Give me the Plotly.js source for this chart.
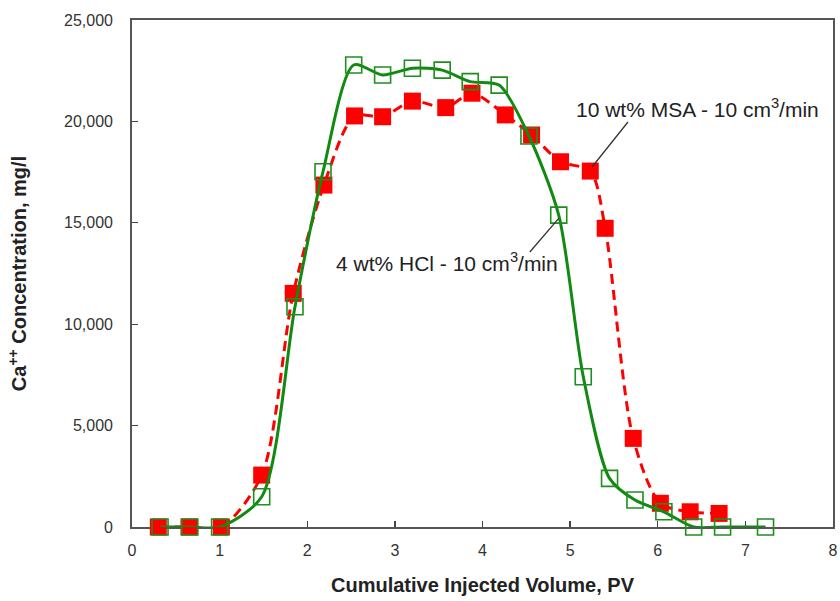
<!DOCTYPE html>
<html>
<head>
<meta charset="utf-8">
<script src="https://cdn.plot.ly/plotly-3.0.1.min.js"></script>
<style>
  html, body { margin: 0; padding: 0; background: #fff; }
  #chart { width: 840px; height: 601px; }
</style>
</head>
<body>
<div id="chart"></div>
<script>
// Effluent calcium concentration vs. injected pore volumes
const msaPV   = [0.30, 0.65, 1.02, 1.48, 1.84, 2.19, 2.54, 2.86, 3.20, 3.58, 3.88, 4.26, 4.56, 4.89, 5.23, 5.40, 5.72, 6.03, 6.37, 6.70];
const msaCa   = [0, 0, 0, 2560, 11520, 16860, 20270, 20230, 21000, 20680, 21390, 20320, 19330, 18010, 17550, 14730, 4370, 1170, 750, 670];

const hclPV   = [0.32, 0.66, 1.00, 1.48, 1.86, 2.18, 2.53, 2.86, 3.20, 3.54, 3.86, 4.19, 4.53, 4.87, 5.15, 5.45, 5.74, 6.07, 6.41, 6.74, 7.23];
const hclCa   = [0, 0, 0, 1490, 10860, 17520, 22780, 22290, 22620, 22530, 21960, 21790, 19280, 15380, 7410, 2400, 1330, 750, 0, 0, 0];

const msaLabel = '10 wt% MSA - 10 cm<sup>3</sup>/min';
const hclLabel = '4 wt% HCl - 10 cm<sup>3</sup>/min';

const xTicks = [0, 1, 2, 3, 4, 5, 6, 7, 8];
const yTicks = [0, 5000, 10000, 15000, 20000, 25000];

const RED = '#ff0000';
const GREEN = '#118a11';
const FONT = 'Liberation Sans, Arial, sans-serif';

const traces = [
  {
    x: msaPV, y: msaCa, type: 'scatter', mode: 'lines+markers', name: msaLabel,
    line: { color: RED, width: 3, dash: '10px,6px', shape: 'spline', smoothing: 0.8 },
    marker: { symbol: 'square', size: 17, color: RED, line: { width: 0 } },
    cliponaxis: false
  },
  {
    x: hclPV, y: hclCa, type: 'scatter', mode: 'lines+markers', name: hclLabel,
    line: { color: GREEN, width: 3, shape: 'spline', smoothing: 0.75 },
    marker: { symbol: 'square-open', size: 16, color: '#1e8f1e', line: { width: 1.6, color: '#1e8f1e' } },
    cliponaxis: false
  }
];

const axisCommon = {
  showgrid: false, zeroline: false,
  showline: true, linecolor: '#555', linewidth: 1.8, mirror: true,
  ticks: 'inside', ticklen: 6, tickwidth: 1.3, tickcolor: '#444',
  tickfont: { family: FONT, size: 16, color: '#333' },
  layer: 'below traces'
};

const layout = {
  width: 840, height: 601,
  margin: { l: 132, r: 7, t: 20, b: 74 },
  paper_bgcolor: '#fff', plot_bgcolor: '#fff',
  showlegend: false,
  xaxis: Object.assign({}, axisCommon, {
    range: [0, 8], tickvals: xTicks, ticktext: xTicks.map(String),
    ticklabelstandoff: 8,
    title: { text: '<b>Cumulative Injected Volume, PV</b>', font: { family: FONT, size: 20, color: '#222' }, standoff: 20 }
  }),
  yaxis: Object.assign({}, axisCommon, {
    range: [0, 25000], tickvals: yTicks, ticktext: yTicks.map(v => v.toLocaleString('en-US')),
    ticklabelstandoff: 14,
    title: { text: '<b>Ca<sup>++</sup> Concentration, mg/l</b>', font: { family: FONT, size: 20, color: '#222' }, standoff: 32 }
  }),
  annotations: [
    { x: 6.455, y: 20660, xref: 'x', yref: 'y', text: msaLabel, showarrow: false,
      font: { family: FONT, size: 21, color: '#222' } },
    { x: 3.59, y: 13070, xref: 'x', yref: 'y', text: hclLabel, showarrow: false,
      font: { family: FONT, size: 21, color: '#222' } }
  ],
  shapes: [
    { type: 'line', xref: 'x', yref: 'y', x0: 5.66, y0: 19970, x1: 5.25, y1: 17750,
      line: { color: '#333', width: 1.3 } },
    { type: 'line', xref: 'x', yref: 'y', x0: 4.54, y0: 13560, x1: 4.87, y1: 15220,
      line: { color: '#333', width: 1.3 } }
  ]
};

Plotly.newPlot('chart', traces, layout, { displayModeBar: false, staticPlot: true });
</script>
</body>
</html>
